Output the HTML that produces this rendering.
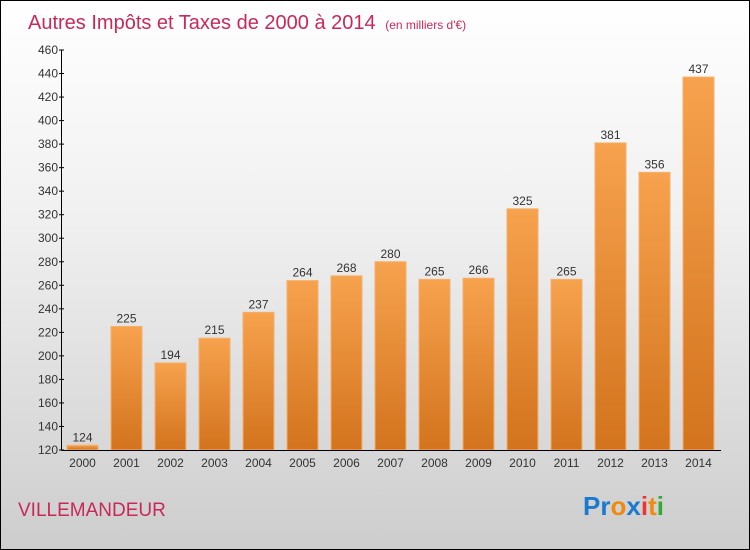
<!DOCTYPE html>
<html><head><meta charset="utf-8"><style>
body{margin:0;}
#wrap{position:relative;width:748px;height:548px;border:1px solid #000;background:linear-gradient(#fff,#f0f0f0 40%,#cdcdcd);font-family:"Liberation Sans",sans-serif;overflow:hidden}
</style></head><body>
<div id="wrap">
<svg id="chart" width="748" height="548">
<defs><linearGradient id="bg" x1="0" y1="0" x2="0" y2="1"><stop offset="0" stop-color="#f7a24e"/><stop offset="1" stop-color="#d3731d"/></linearGradient></defs>
<text x="27" y="28" font-size="20" fill="#c8285a">Autres Impôts et Taxes de 2000 à 2014 <tspan font-size="12" dx="4">(en milliers d'€)</tspan></text>
<text x="17" y="515" font-size="19" fill="#c8285a">VILLEMANDEUR</text>
<text x="582" y="514" font-size="26" font-weight="bold"><tspan fill="#1a7ad0">Pr</tspan><tspan fill="#ee8a10">o</tspan><tspan fill="#1a7ad0">x</tspan><tspan fill="#e33">i</tspan><tspan fill="#ee8a10">t</tspan><tspan fill="#3a3">i</tspan></text>
</svg>
</div>
<script>
const categories=["2000","2001","2002","2003","2004","2005","2006","2007","2008","2009","2010","2011","2012","2013","2014"];
const values=[124,225,194,215,237,264,268,280,265,266,325,265,381,356,437];
const yTicks=[120,140,160,180,200,220,240,260,280,300,320,340,360,380,400,420,440,460];
const svg=document.getElementById('chart');
const NS='http://www.w3.org/2000/svg';
const y=v=>449-(v-120)*400/340;
const x=i=>81.5+i*44;
function mk(t,a){const e=document.createElementNS(NS,t);for(const k in a)e.setAttribute(k,a[k]);svg.appendChild(e);return e;}
values.forEach((v,i)=>{
 const r=mk('rect',{x:x(i)-15.5,y:y(v),width:31,height:y(120)-y(v),fill:'url(#bg)',stroke:'#f5b06a','stroke-width':1});
 
 
 const t=mk('text',{x:x(i),y:y(v)-4,'font-size':12,fill:'#333','text-anchor':'middle'});t.textContent=v;
 
 
 const c=mk('text',{x:x(i),y:466,'font-size':12,fill:'#333','text-anchor':'middle'});c.textContent=categories[i];
 
 
});
const ax=mk('line',{x1:60.5,y1:y(460),x2:60.5,y2:y(120),stroke:'#000'});


const bx=mk('line',{x1:60.5,y1:y(120)+0.5,x2:720,y2:y(120)+0.5,stroke:'#000'});


yTicks.forEach(v=>{
 mk('line',{x1:58,x2:63,y1:y(v),y2:y(v),stroke:'#000'});
 const t=mk('text',{x:57,y:y(v)+4,'font-size':12,fill:'#333','text-anchor':'end'});t.textContent=v;
 
 
});
</script>
</body></html>
